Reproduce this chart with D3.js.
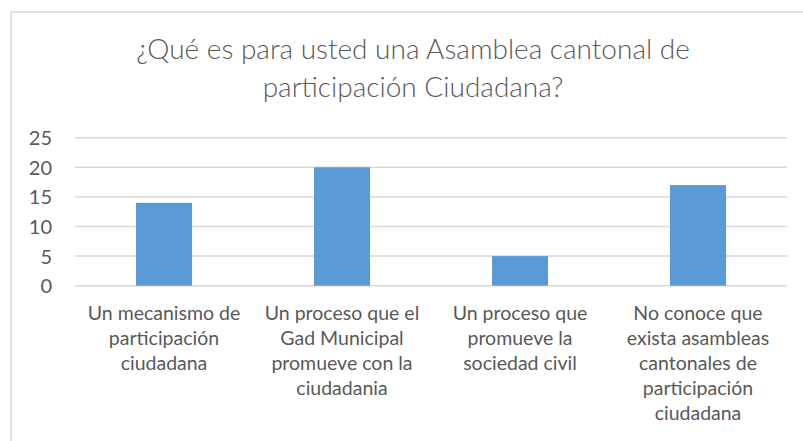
<!DOCTYPE html>
<html>
<head>
<meta charset="utf-8">
<script src="https://cdn.jsdelivr.net/npm/d3@7"></script>
<style>
  html, body { margin: 0; padding: 0; background: #fff; }
  svg { display: block; }
  text { font-family: Lato, "Open Sans", sans-serif; fill: #595959; }
</style>
</head>
<body>
<svg id="chart" width="803" height="441"></svg>
<script>
const titleLines = ["¿Qué es para usted una Asamblea cantonal de", "participación Ciudadana?"];
const categories = [
  ["Un mecanismo de", "participación", "ciudadana"],
  ["Un proceso que el", "Gad Municipal", "promueve con la", "ciudadania"],
  ["Un proceso que", "promueve la", "sociedad civil"],
  ["No conoce que", "exista asambleas", "cantonales de", "participación", "ciudadana"]
];
const values = [14, 20, 5, 17];
const yTicks = [0, 5, 10, 15, 20, 25];

const svg = d3.select("#chart");
const plot = { left: 75, right: 787, top: 137.7, bottom: 285.7 };

// Chart frame
svg.append("rect")
  .attr("x", 11).attr("y", 12)
  .attr("width", 800).attr("height", 440)
  .attr("fill", "#fff")
  .attr("stroke", "#d9d9d9").attr("stroke-width", 1.5);

// Title
const title = svg.append("text")
  .attr("text-anchor", "middle")
  .style("font-size", "28px")
  .style("font-weight", "300");
title.selectAll("tspan").data(titleLines).join("tspan")
  .attr("x", 413)
  .attr("y", (d, i) => 59 + i * 38)
  .text(d => d);

const x = d3.scaleBand()
  .domain(d3.range(categories.length))
  .range([plot.left, plot.right])
  .paddingInner(0.685)
  .paddingOuter(0.3425);

const y = d3.scaleLinear().domain([0, 25]).range([plot.bottom, plot.top]);

// Gridlines
svg.append("g").selectAll("line").data(yTicks).join("line")
  .attr("x1", plot.left).attr("x2", plot.right)
  .attr("y1", d => y(d)).attr("y2", d => y(d))
  .attr("stroke", "#d9d9d9").attr("stroke-width", 1.5);

// Y axis labels
const yAxis = d3.axisLeft(y).tickValues(yTicks).tickSize(0).tickPadding(0);
const yg = svg.append("g").attr("transform", "translate(52,0)").call(yAxis);
yg.select(".domain").remove();
yg.selectAll("text")
  .style("font-size", "20px")
  .style("font-family", "Lato, 'Open Sans', sans-serif")
  .attr("fill", "#595959")
  .attr("dy", "0.35em");

// Bars
svg.append("g").selectAll("rect").data(values).join("rect")
  .attr("x", (d, i) => x(i))
  .attr("width", x.bandwidth())
  .attr("y", d => y(d))
  .attr("height", d => y(0) - y(d))
  .attr("fill", "#5b9bd5");

// Category labels
const cat = svg.append("g").selectAll("text").data(categories).join("text")
  .attr("text-anchor", "middle")
  .style("font-size", "19.5px");
cat.each(function (lines, i) {
  d3.select(this).selectAll("tspan").data(lines).join("tspan")
    .attr("x", x(i) + x.bandwidth() / 2)
    .attr("y", (d, j) => 320 + j * 25)
    .text(d => d);
});
</script>
</body>
</html>
